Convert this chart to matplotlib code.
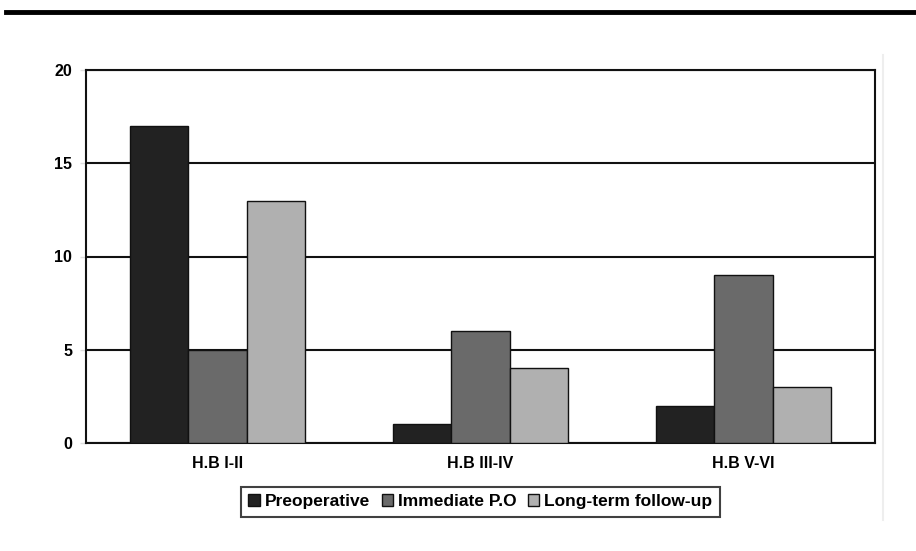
import numpy as np
import matplotlib.pyplot as plt
from matplotlib.lines import Line2D

plt.rcParams['font.family'] = ['Liberation Sans', 'DejaVu Sans']
plt.rcParams['font.weight'] = 'bold'

categories = ['H.B I-II', 'H.B III-IV', 'H.B V-VI']
preoperative = [17, 1, 2]
immediate = [5, 6, 9]
long_term = [13, 4, 3]
series = ['Preoperative', 'Immediate P.O', 'Long-term follow-up']
colors = ['#222222', '#6a6a6a', '#b0b0b0']

fig = plt.figure(figsize=(9.16, 5.51), dpi=100)
ax = fig.add_axes([86 / 916, 1 - 443 / 551, 789 / 916, 373 / 551])

x = np.arange(len(categories))
w = 0.222
for i, (vals, lab, c) in enumerate(zip([preoperative, immediate, long_term], series, colors)):
    ax.bar(x + (i - 1) * w, vals, w, color=c, edgecolor='#111111', linewidth=1.0,
           label=lab, zorder=3)

ax.set_xlim(-0.5, 2.5)
ax.set_ylim(0, 20)
ax.set_yticks([0, 5, 10, 15, 20])
ax.set_xticks(x)
ax.set_xticklabels(categories)
ax.tick_params(axis='x', length=0, pad=9, labelsize=11.5)
ax.tick_params(axis='y', length=4, width=1, labelsize=11.5, pad=6, color='#dddddd')
ax.yaxis.grid(True, color='#111111', linewidth=1.5, zorder=1)
for s in ax.spines.values():
    s.set_color('#111111')
    s.set_linewidth(1.5)

leg = ax.legend(loc='upper center', bbox_to_anchor=(0.5, -0.118), ncol=3, frameon=True,
                fancybox=False, edgecolor='#111111', fontsize=12.5, handlelength=0.65,
                handleheight=0.65, handletextpad=0.3, columnspacing=0.65,
                borderpad=0.42, borderaxespad=0)
leg.get_frame().set_linewidth(1.5)

# thick rule at top and faint divider on the right
fig.add_artist(Line2D([6 / 916, 1], [1 - 12 / 551] * 2, color='black', linewidth=3.5))
fig.add_artist(Line2D([883 / 916] * 2, [1 - 520 / 551, 1 - 55 / 551], color='#eeeeee', linewidth=1.5))

fig.savefig('out.png', dpi=100)
